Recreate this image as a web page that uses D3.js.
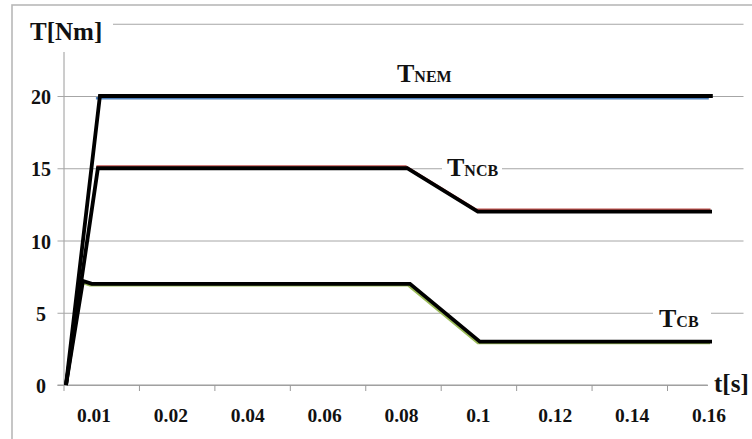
<!DOCTYPE html>
<html>
<head>
<meta charset="utf-8">
<script src="https://cdn.jsdelivr.net/npm/d3@7"></script>
<style>
  body { margin: 0; background: #fff; }
  svg { display: block; font-family: "Liberation Serif", "Times New Roman", serif; font-weight: bold; }
</style>
</head>
<body>
<div id="chart"></div>
<script>
// series (time in s, torque in Nm)
var nemTime = [0, 0.0084, 0.1602];
var nemTorque = [0, 20, 20];

var ncbTime = [0, 0.0079, 0.0845, 0.102, 0.16];
var ncbTorque = [0, 15, 15, 12, 12];

var cbTime = [0, 0.0042, 0.0064, 0.0852, 0.1025, 0.16];
var cbTorque = [0, 7.2, 7, 7, 3, 3];

// axis labels
var xLabels = ["0.01", "0.02", "0.04", "0.06", "0.08", "0.1", "0.12", "0.14", "0.16"];
var yTicks = [0, 5, 10, 15, 20, 25];

function zip(t, v) {
  return t.map(function(d, i) { return {t: d, v: v[i]}; });
}

var series = [
  {name: "NEM", data: zip(nemTime, nemTorque), color: "#4f81bd", dx: -4, dy: 2.2},
  {name: "NCB", data: zip(ncbTime, ncbTorque), color: "#c0504d", dx: -1.5, dy: -1.8},
  {name: "CB",  data: zip(cbTime, cbTorque),   color: "#9bbb59", dx: -2, dy: 1.5}
];

var width = 752, height = 439;

var svg = d3.select("#chart")
  .append("svg")
    .attr("width", width)
    .attr("height", height);

// outer frame
svg.append("rect")
  .attr("x", 12).attr("y", 5)
  .attr("width", 800).attr("height", 500)
  .style("fill", "none")
  .style("stroke", "#b8b8b8")
  .style("stroke-width", 1.6);

var x = d3.scaleLinear()
  .domain([0, 0.16])
  .range([66, 712]);

var y = d3.scaleLinear()
  .domain([0, 25])
  .range([385, 23.75]);

// tick marks along the time axis (evenly spaced, not tied to labels)
var xTickPos = d3.scaleLinear()
  .domain([0, 8])
  .range([63.5, 667]);

var xLab = d3.scalePoint()
  .domain(xLabels)
  .range([94, 709]);

// y axis + gridlines
var yAxis = svg.append("g")
  .attr("transform", "translate(63.5,0)")
  .call(d3.axisLeft(y)
    .tickValues(yTicks)
    .tickSizeInner(-680)
    .tickSizeOuter(0)
    .tickPadding(0)
    .tickFormat(function(d) { return d == 25 ? "" : d; }));

yAxis.select(".domain").style("stroke", "#9a9a9a");
yAxis.selectAll(".tick line")
  .attr("x1", -6)
  .style("stroke", "#a6a6a6");
yAxis.selectAll(".tick text")
  .attr("x", 41 - 63.5)
  .attr("dy", "0.38em")
  .attr("text-anchor", "middle")
  .style("font-family", "'Liberation Serif', serif")
  .style("font-weight", "bold")
  .style("font-size", "20px")
  .style("fill", "#111");

// x axis
var xAxis = svg.append("g")
  .attr("transform", "translate(0," + y(0) + ")")
  .call(d3.axisBottom(xTickPos)
    .tickValues(d3.range(9))
    .tickSizeInner(6)
    .tickSizeOuter(0)
    .tickFormat(""));

xAxis.select(".domain").remove();
xAxis.selectAll(".tick line").style("stroke", "#9a9a9a");
xAxis.append("line")
  .attr("x1", xTickPos(-0.08))
  .attr("x2", xTickPos(8.54))
  .style("stroke", "#9a9a9a");

svg.append("g")
  .selectAll("text")
  .data(xLabels)
  .enter()
  .append("text")
    .attr("x", function(d) { return xLab(d); })
    .attr("y", 422)
    .attr("text-anchor", "middle")
    .style("font-size", "19.5px")
    .style("fill", "#111")
    .text(function(d) { return d; });

// lines
var line = d3.line()
  .x(function(d) { return x(d.t); })
  .y(function(d) { return y(d.v); });

var lines = svg.append("g");

// coloured series peeking out from under the black traces
lines.selectAll(".under")
  .data(series)
  .enter()
  .append("path")
    .attr("class", "under")
    .attr("transform", function(d) { return "translate(" + d.dx + "," + d.dy + ")"; })
    .attr("d", function(d) { return line(d.data.slice(1)); })
    .style("fill", "none")
    .style("stroke", function(d) { return d.color; })
    .style("stroke-width", 2.4);

lines.selectAll(".over")
  .data(series)
  .enter()
  .append("path")
    .attr("class", "over")
    .attr("d", function(d) { return line(d.data); })
    .style("fill", "none")
    .style("stroke", "#000")
    .style("stroke-width", 3.8)
    .style("stroke-linejoin", "miter");

// label boxes (white background text boxes)
function box(x0, y0, w, h) {
  svg.append("rect")
    .attr("x", x0).attr("y", y0)
    .attr("width", w).attr("height", h)
    .style("fill", "#fff");
}

box(14, 7, 99, 45);
box(708, 366, 44, 36);
box(442, 156, 60, 24);
box(653, 304, 58, 26);

svg.append("text")
  .attr("x", 30).attr("y", 40)
  .style("font-size", "25px")
  .style("fill", "#111")
  .text("T[Nm]");

svg.append("text")
  .attr("x", 714).attr("y", 392)
  .style("font-size", "25px")
  .style("fill", "#111")
  .text("t[s]");

function seriesLabel(px, py, sub) {
  var t = svg.append("text")
    .attr("x", px).attr("y", py)
    .style("fill", "#111");
  t.append("tspan").style("font-size", "26px").text("T");
  t.append("tspan").style("font-size", "16px").text(sub);
}

seriesLabel(397, 82, "NEM");
seriesLabel(447, 176, "NCB");
seriesLabel(659, 327, "CB");
</script>
</body>
</html>
